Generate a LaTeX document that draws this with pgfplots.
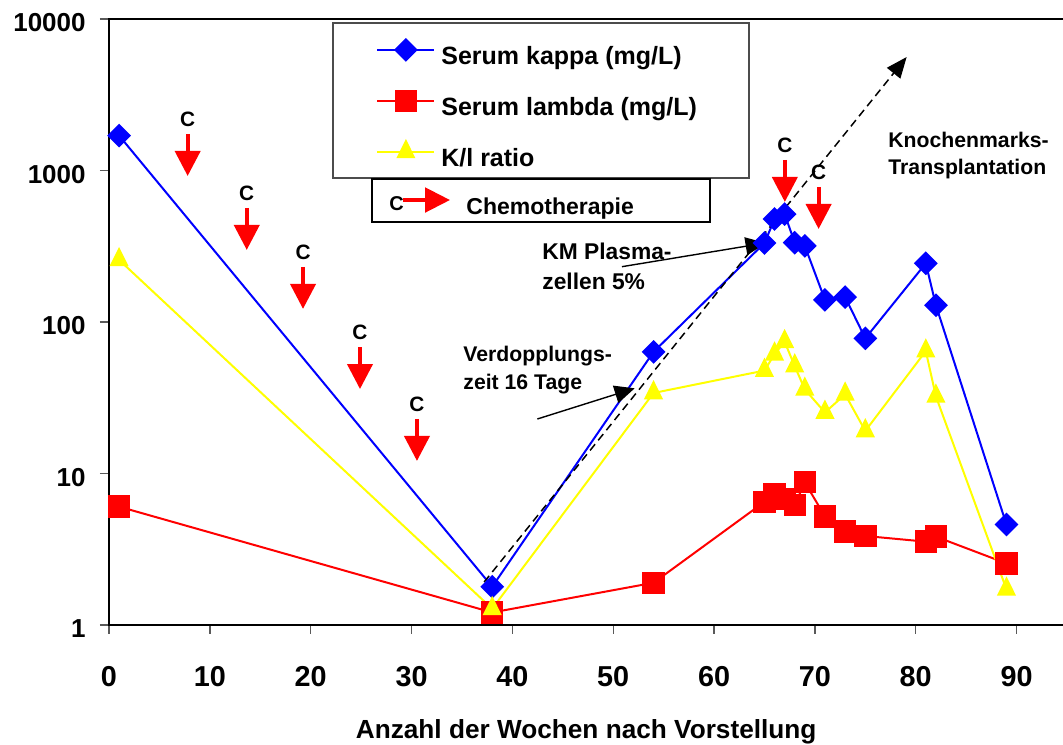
\documentclass[border=0pt]{standalone}
\usepackage{pgfplots}
\pgfplotsset{compat=1.18}
\usepackage{pgfplotstable}
\usepackage{fontspec}
\setmainfont{Liberation Sans}
\usetikzlibrary{arrows.meta,calc}
\definecolor{cblue}{RGB}{0,0,255}
\definecolor{cred}{RGB}{255,0,0}
\definecolor{cyel}{RGB}{255,255,0}

\pgfplotstableread{
x y
1 1700
38 1.79
54 63.5
65 332
66 478
67 516
68 334
69 318
71 140
73 146
75 78
81 244
82 129
89 4.6
}\datakappa

\pgfplotstableread{
x y
1 6.04
38 1.21
54 1.90
65 6.5
66 7.3
67 6.8
68 6.2
69 8.75
71 5.2
73 4.13
75 3.87
81 3.55
82 3.83
89 2.55
}\datalambda

\pgfplotstableread{
x y
1 257
38 1.28
54 34
65 47.8
66 61.3
67 74
68 51.2
69 35.9
71 25.3
73 33.3
75 19.1
81 64.3
82 32.3
89 1.72
}\dataratio

\pgfplotsset{
  kstyle/.style={cblue, line width=1pt, mark=square*, mark size=3.7pt, mark options={rotate=45, solid, fill=cblue}},
  lstyle/.style={cred, line width=1pt, mark=square*, mark size=5.1pt, mark options={solid, fill=cred}},
  rstyle/.style={cyel, line width=1pt, mark=triangle*, mark size=4.6pt, mark options={solid, fill=cyel, yscale=1.16}},
}

\newcommand{\chemo}[2]{%
  \draw[cred, line width=2pt, -{Triangle[width=12.5pt,length=12.5pt]}] ([yshift=21pt]axis cs:#1,#2) -- (axis cs:#1,#2);
  \node[font=\bfseries\fontsize{10.4}{12}\selectfont, inner sep=0pt, text=black] at ([yshift=28.5pt]axis cs:#1,#2) {C};
}

\begin{document}
\begin{tikzpicture}
\begin{axis}[name=ax, scale only axis, width=480pt, height=303pt,
  xmin=0, xmax=95.2, ymode=log, ymin=1, ymax=10000,
  axis line style={line width=1.2pt, black},
  tick pos=left, tick align=outside, major tick length=4.5pt,
  tick style={gray!70!black, line width=0.7pt},
  yminorticks=false,
  xtick={0,10,20,30,40,50,60,70,80,90},
  xticklabels={0,10,20,30,40,50,60,70,80,90},
  ytick={1,10,100,1000,10000},
  yticklabels={1,10,100,1000,10000},
  /pgf/number format/assume math mode=true,
  xticklabel style={font=\bfseries\fontsize{14.4}{17}\selectfont, anchor=center, inner sep=0pt, yshift=-21.5pt},
  yticklabel style={font=\bfseries\fontsize{13}{15}\selectfont, anchor=east, inner sep=0pt, xshift=-7pt, yshift=-2pt},
  xlabel={Anzahl der Wochen nach Vorstellung},
  xlabel style={at={(axis description cs:0.497,0)}, anchor=base, inner sep=0pt, yshift=-56.6pt, font=\bfseries\fontsize{13.1}{15}\selectfont},
  legend style={at={(axis description cs:0.2781,0.9769)}, anchor=north west, draw=none, fill=none,
    inner xsep=0pt, inner ysep=0pt, row sep=4.8pt, column sep=3pt,
    font=\bfseries\fontsize{12.5}{15}\selectfont,
    nodes={inner sep=0pt, text height=15.5pt, text depth=5.2pt}},
  legend cell align=left,
  legend image code/.code={\draw[mark repeat=2,mark phase=2,#1] plot coordinates {(0pt,2.1pt) (14.25pt,2.1pt) (28.5pt,2.1pt)};},
]
% lines
\addplot[cblue, line width=1pt, forget plot] table {\datakappa};
\addplot[cred, line width=1pt, forget plot] table {\datalambda};
\addplot[cyel, line width=1pt, forget plot] table {\dataratio};
% markers
\addplot[kstyle, only marks, forget plot] table {\datakappa};
\addplot[lstyle, only marks, forget plot] table {\datalambda};
\addplot[rstyle, only marks, forget plot] table {\dataratio};
% legend
\addlegendimage{kstyle}\addlegendentry{Serum kappa (mg/L)}
\addlegendimage{lstyle}\addlegendentry{Serum lambda (mg/L)}
\addlegendimage{rstyle}\addlegendentry{K/l ratio}

% legend boxes
\draw[gray!60!black, line width=0.6pt] (axis description cs:0.2333,0.9934) rectangle (axis description cs:0.6667,0.7376);
\draw[black, line width=1pt] (axis description cs:0.2740,0.7360) rectangle (axis description cs:0.6260,0.6645);
\node[font=\bfseries\fontsize{10}{12}\selectfont, inner sep=0pt] at (axis description cs:0.2995,0.6959) {C};
\draw[cred, line width=1.7pt, -{Triangle[width=12.3pt,length=12.5pt]}] (axis description cs:0.30625,0.7013) -- (axis description cs:0.35521,0.7013);
\node[font=\bfseries\fontsize{11.5}{14}\selectfont, inner sep=0pt, anchor=base west] at (axis description cs:0.3719,0.6777) {Chemotherapie};

% chemotherapy arrows
\chemo{7.8}{920}
\chemo{13.66}{299}
\chemo{19.24}{122}
\chemo{24.89}{36.1}
\chemo{30.54}{12.1}
\chemo{67.02}{620}
\chemo{70.37}{411}

% black annotations
\draw[black, line width=0.75pt, dash pattern=on 4pt off 2.5pt, -{Triangle[width=8.5pt,length=10.4pt]}] (axis cs:37.2,1.92) -- (axis cs:79.1,5610);
\draw[black, line width=0.7pt, -{Triangle[width=9pt,length=10pt]}] (axis cs:50.87,231.8) -- (axis cs:65.11,332.3);
\draw[black, line width=0.7pt, -{Triangle[width=9pt,length=10pt]}] (axis cs:42.48,22.9) -- (axis cs:52.13,36.5);

\node[font=\bfseries\fontsize{10.6}{12}\selectfont, inner sep=0pt, anchor=base west] at (axis description cs:0.8115,0.7878) {Knochenmarks-};
\node[font=\bfseries\fontsize{10.6}{12}\selectfont, inner sep=0pt, anchor=base west] at (axis description cs:0.8115,0.7437) {Transplantation};
\node[font=\bfseries\fontsize{11.4}{13}\selectfont, inner sep=0pt, anchor=base west] at (axis description cs:0.4510,0.6031) {KM Plasma-};
\node[font=\bfseries\fontsize{11.4}{13}\selectfont, inner sep=0pt, anchor=base west] at (axis description cs:0.4510,0.5536) {zellen 5\%};
\node[font=\bfseries\fontsize{10.6}{12}\selectfont, inner sep=0pt, anchor=base west] at (axis description cs:0.3688,0.4356) {Verdopplungs-};
\node[font=\bfseries\fontsize{10.6}{12}\selectfont, inner sep=0pt, anchor=base west] at (axis description cs:0.3688,0.3894) {zeit 16 Tage};
\end{axis}
\pgfresetboundingbox
\path[use as bounding box] ($(ax.south west)+(-54.5pt,-59.5pt)$) rectangle ($(ax.south west)+(477pt,312.5pt)$);
\end{tikzpicture}
\end{document}
